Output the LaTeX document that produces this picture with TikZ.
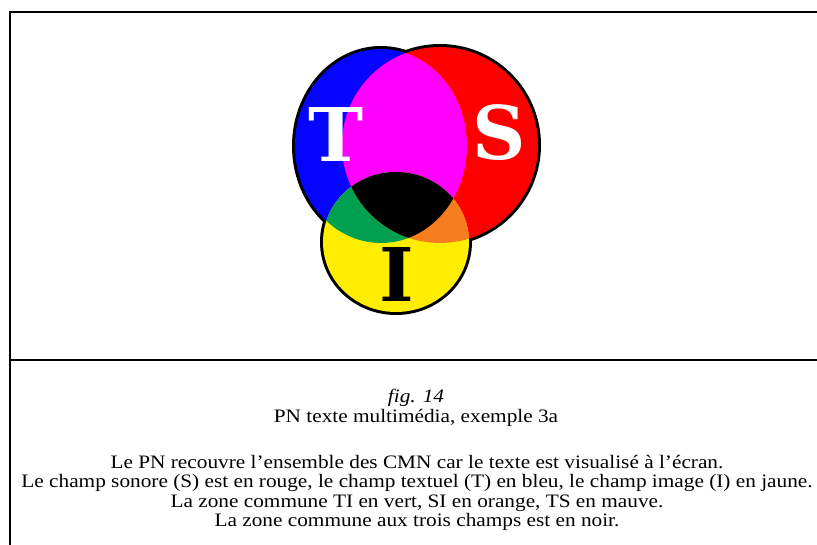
\documentclass[tikz,border=0pt]{standalone}
\usepackage{fontspec}
\setmainfont{Liberation Serif}
\newfontfamily\legendefont[FakeStretch=1.12]{Liberation Serif}
\newfontfamily\lettrefont{DejaVu Serif}
\usetikzlibrary{positioning}
\definecolor{clBleu}  {RGB}{  5,  5,255}
\definecolor{clRouge} {RGB}{252,  0,  0}
\definecolor{clJaune} {RGB}{255,238,  0}
\definecolor{clMauve} {RGB}{255,  0,255}
\definecolor{clVert}  {RGB}{  0,160, 80}
\definecolor{clOrange}{RGB}{245,125, 30}
\tikzset{
  frame/.style={line width=2.2pt, black},
  contour/.style={line width=6pt, black},
  lettre/.style={font=\lettrefont\fontsize{74}{74}\selectfont\bfseries, inner sep=0pt},
  legende/.style={align=center, font=\legendefont\fontsize{19}{19.5}\selectfont, inner sep=0pt}
}
% the three fields
\newcommand{\champT}{(381,146) ellipse [x radius=86pt, y radius=97pt]}
\newcommand{\champS}{(440,145) ellipse [x radius=98pt, y radius=98pt]}
\newcommand{\champI}{(396,242) ellipse [x radius=73pt, y radius=70pt]}
\begin{document}
\begin{tikzpicture}[x=1pt, y=-1pt]
    \useasboundingbox (0,0) rectangle (817,545);

    % ============================================================
    % FRAME
    % ============================================================
    \draw [frame] (10,545) -- (10,12) -- (817,12);
    \draw [frame] (10,360) -- (817,360);

    % ============================================================
    % FIELDS T, S, I
    % ============================================================
    \draw [contour] \champT;
    \draw [contour] \champS;
    \draw [contour] \champI;
    \fill [clBleu] \champT;
    \fill [clRouge] \champS;
    \fill [clJaune] \champI;
    \begin{scope}
      \clip \champT;
      \fill [clMauve] \champS;
      \fill [clVert] \champI;
    \end{scope}
    \begin{scope}
      \clip \champS;
      \fill [clOrange] \champI;
    \end{scope}
    \begin{scope}
      \clip \champT;
      \clip \champS;
      \fill [black] \champI;
    \end{scope}

    \node (lettreT) [lettre, text=white] at (336,135) {T};
    \node (lettreS) [lettre, text=white] at (499,133) {S};
    \node (lettreI) [lettre, text=black] at (397,275) {I};

    % ============================================================
    % CAPTION
    % ============================================================
    \node (titre) [legende] at (416,408) {
      \textit{fig. 14}\\
      PN texte multimédia, exemple 3a
    };

    \node (texte) [legende] at (417,493) {
      Le PN recouvre l’ensemble des CMN car le texte est visualisé à l’écran.\\
      Le champ sonore (S) est en rouge, le champ textuel (T) en bleu, le champ image (I) en jaune.\\
      La zone commune TI en vert, SI en orange, TS en mauve.\\
      La zone commune aux trois champs est en noir.
    };

\end{tikzpicture}
\end{document}
